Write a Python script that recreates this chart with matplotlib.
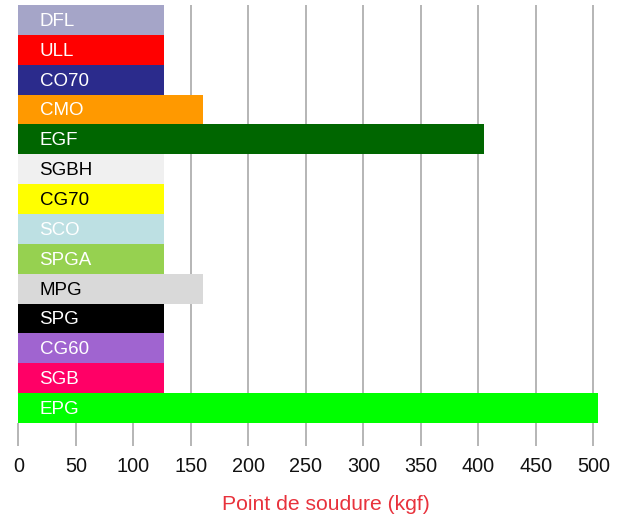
import matplotlib.pyplot as plt

plt.rcParams['font.family'] = ['Liberation Sans', 'DejaVu Sans']

# Weld point strength per product
products = ["DFL", "ULL", "CO70", "CMO", "EGF", "SGBH", "CG70",
            "SCO", "SPGA", "MPG", "SPG", "CG60", "SGB", "EPG"]
values = [127, 127, 127, 161, 405, 127, 127,
          127, 127, 161, 127, 127, 127, 504]
bar_colors = ["#a5a5c8", "#ff0000", "#2b2b8c", "#ff9900", "#006600", "#f0f0f0", "#ffff00",
              "#bde0e3", "#96d150", "#d9d9d9", "#000000", "#a064d0", "#ff0066", "#00ff00"]
text_colors = ["white", "white", "white", "white", "white", "black", "black",
               "white", "white", "black", "white", "white", "white", "white"]
xticks = [0, 50, 100, 150, 200, 250, 300, 350, 400, 450, 500]

W, H = 629, 519
fig = plt.figure(figsize=(W / 100, H / 100), dpi=100)
x0, x1 = 18.3, 627.8
y_top, y_bot = 5, 423
ax = fig.add_axes([x0 / W, 1 - y_bot / H, (x1 - x0) / W, (y_bot - y_top) / H])

pos = list(range(len(products)))
ax.barh(pos, values, height=1.0, color=bar_colors, zorder=2)
for i, (name, tc) in enumerate(zip(products, text_colors)):
    ax.text(18.5, i + 0.05, name, color=tc, fontsize=13.5, va="center", ha="left", zorder=3)

ax.set_ylim(len(products) - 0.5, -0.5)
ax.set_xlim(0, (x1 - x0) / 1.15)
ax.set_xticks(xticks)
ax.set_yticks([])
for s in ax.spines.values():
    s.set_visible(False)
ax.grid(axis="x", color="#b0b0b0", linewidth=1.3, zorder=0)
ax.set_axisbelow(True)
ax.tick_params(axis="x", direction="out", length=16.5, width=1.3, color="#b0b0b0",
               pad=8, labelsize=14.3, labelcolor="#111111")

fig.text(325.5 / W, 1 - 505 / H, "Point de soudure (kgf)", color="#e8323c",
         fontsize=15.2, ha="center", va="center")

fig.savefig("out.png", dpi=100)
